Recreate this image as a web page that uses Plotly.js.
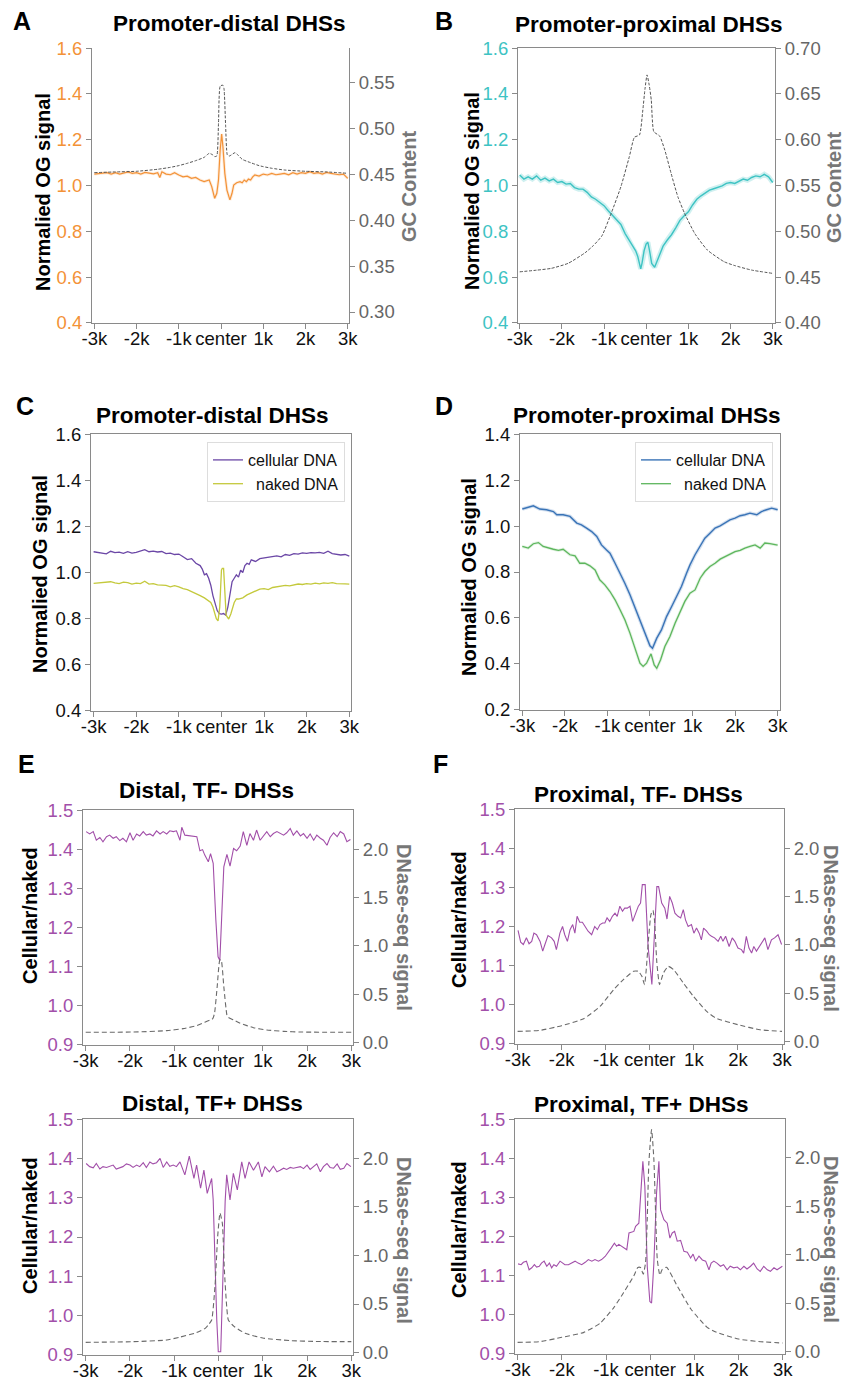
<!DOCTYPE html>
<html><head><meta charset="utf-8">
<script src="https://cdn.plot.ly/plotly-3.0.1.min.js"></script>
<style>html,body{margin:0;padding:0;background:#fff}#chart{width:846px;height:1380px}</style>
</head><body><div id="chart"></div>
<script>
// ---------- tick labels ----------
const X_TICKS = [-3000,-2000,-1000,0,1000,2000,3000];
const X_LABELS = ['-3k','-2k','-1k','center','1k','2k','3k'];
const OG_TICKS_A = [0.4,0.6,0.8,1.0,1.2,1.4,1.6];
const GC_TICKS_A = [0.30,0.35,0.40,0.45,0.50,0.55];
const GC_TICKS_B = [0.40,0.45,0.50,0.55,0.60,0.65,0.70];
const OG_TICKS_D = [0.2,0.4,0.6,0.8,1.0,1.2,1.4];
const RATIO_TICKS = [0.9,1.0,1.1,1.2,1.3,1.4,1.5];
const DNASE_TICKS = [0.0,0.5,1.0,1.5,2.0];

// ---------- Panel A: promoter-distal, OG signal + GC content ----------
const A_og_x = [-3000,-2850,-2700,-2600,-2500,-2400,-2300,-2200,-2100,-2000,-1900,-1800,-1700,-1600,-1500,-1450,-1400,-1300,-1200,-1100,-1000,-900,-800,-700,-600,-500,-400,-350,-280,-220,-150,-100,-60,-20,15,45,90,140,210,260,300,370,450,500,550,600,650,700,750,800,900,1000,1100,1200,1300,1400,1500,1600,1700,1800,1900,2000,2100,2200,2300,2400,2500,2600,2700,2800,2900,3000];
const A_og = [1.050,1.053,1.056,1.050,1.056,1.050,1.054,1.059,1.053,1.056,1.050,1.057,1.054,1.051,1.056,1.035,1.060,1.050,1.047,1.056,1.046,1.038,1.041,1.031,1.035,1.024,1.017,1.021,1.024,0.995,0.944,0.966,1.024,1.155,1.225,1.169,1.053,0.980,0.937,0.966,1.002,1.012,1.017,1.012,1.024,1.017,1.028,1.024,1.038,1.046,1.041,1.050,1.046,1.053,1.047,1.050,1.053,1.047,1.056,1.050,1.056,1.053,1.060,1.053,1.056,1.050,1.057,1.053,1.050,1.047,1.050,1.031];
const A_gc_x = [-3000,-2500,-2000,-1500,-1200,-1000,-800,-600,-400,-280,-200,-150,-100,-60,-20,40,70,110,150,200,330,400,500,700,900,1000,1200,1500,2000,2500,3000];
const A_gc = [0.452,0.4528,0.4535,0.4557,0.4578,0.4597,0.4622,0.4651,0.4687,0.4731,0.4715,0.4695,0.4702,0.5057,0.5464,0.5475,0.5438,0.5021,0.4713,0.4702,0.4738,0.4713,0.4666,0.4629,0.4597,0.4586,0.4568,0.4549,0.4535,0.4528,0.4513];

// ---------- Panel B: promoter-proximal ----------
const B_og_x = [-3000,-2900,-2800,-2700,-2600,-2500,-2400,-2300,-2200,-2100,-2000,-1900,-1800,-1700,-1600,-1500,-1400,-1300,-1200,-1100,-1000,-900,-800,-700,-600,-500,-400,-300,-250,-200,-150,-130,-100,-50,0,40,80,130,200,260,320,400,500,600,700,800,900,1000,1100,1200,1300,1400,1500,1600,1700,1800,1900,2000,2100,2200,2300,2400,2500,2600,2700,2800,2900,3000];
const B_og = [1.046,1.028,1.038,1.028,1.042,1.023,1.032,1.020,1.028,1.013,1.017,1.006,1.009,0.991,0.984,0.984,0.970,0.950,0.940,0.926,0.912,0.890,0.870,0.850,0.830,0.790,0.760,0.730,0.715,0.690,0.650,0.636,0.660,0.715,0.745,0.752,0.715,0.660,0.643,0.670,0.705,0.735,0.762,0.785,0.815,0.848,0.868,0.885,0.915,0.940,0.955,0.968,0.980,0.986,0.991,0.998,1.009,1.013,1.009,1.020,1.028,1.023,1.035,1.042,1.038,1.049,1.038,1.013];
const B_gc_x = [-3000,-2600,-2250,-1850,-1450,-1250,-1050,-830,-600,-400,-280,-160,-80,-30,20,70,120,180,320,440,590,750,910,1150,1450,1850,2100,2500,3000];
const B_gc = [0.4557,0.4575,0.4595,0.465,0.4765,0.4845,0.495,0.5196,0.5487,0.5815,0.6027,0.6052,0.6325,0.655,0.6708,0.66,0.6435,0.6088,0.604,0.5888,0.5633,0.5378,0.5196,0.4977,0.4795,0.4667,0.4625,0.4576,0.454];

// ---------- Panel C: promoter-distal, cellular vs naked ----------
const C_cell_x = [-3000,-2900,-2800,-2700,-2600,-2500,-2400,-2300,-2200,-2100,-2000,-1900,-1800,-1700,-1600,-1500,-1400,-1300,-1200,-1100,-1000,-900,-800,-700,-600,-500,-450,-400,-350,-300,-250,-200,-150,-100,-50,0,50,100,150,200,250,300,350,400,450,500,550,600,650,700,800,900,1000,1100,1200,1300,1400,1500,1600,1700,1800,1900,2000,2100,2200,2300,2400,2500,2600,2700,2800,2900,3000];
const C_cell = [1.090,1.088,1.085,1.081,1.092,1.086,1.088,1.083,1.090,1.084,1.087,1.094,1.099,1.090,1.093,1.089,1.091,1.082,1.084,1.078,1.080,1.068,1.056,1.060,1.040,1.030,1.015,0.990,0.995,0.975,0.945,0.900,0.870,0.835,0.822,0.820,0.822,0.815,0.850,0.910,0.960,0.975,0.990,0.980,1.010,1.000,1.030,1.040,1.035,1.055,1.048,1.060,1.063,1.066,1.070,1.072,1.068,1.078,1.074,1.082,1.080,1.085,1.083,1.086,1.085,1.087,1.083,1.092,1.082,1.080,1.076,1.078,1.071];
const C_naked_x = [-3000,-2900,-2800,-2700,-2600,-2500,-2400,-2300,-2200,-2100,-2000,-1900,-1800,-1700,-1600,-1500,-1400,-1300,-1200,-1100,-1000,-900,-800,-700,-600,-500,-400,-300,-250,-200,-150,-120,-80,-40,0,20,50,75,110,170,220,300,350,400,500,600,700,800,900,1000,1100,1200,1300,1400,1500,1600,1700,1800,1900,2000,2100,2200,2300,2400,2500,2600,2700,2800,2900,3000];
const C_naked = [0.953,0.954,0.956,0.957,0.960,0.955,0.952,0.958,0.956,0.950,0.954,0.952,0.962,0.950,0.952,0.946,0.945,0.944,0.938,0.943,0.938,0.930,0.926,0.918,0.910,0.900,0.890,0.878,0.870,0.850,0.820,0.800,0.790,0.850,1.010,1.018,1.018,0.900,0.815,0.798,0.820,0.870,0.885,0.885,0.890,0.903,0.912,0.920,0.928,0.930,0.926,0.935,0.938,0.940,0.944,0.942,0.946,0.950,0.948,0.952,0.950,0.954,0.951,0.955,0.953,0.956,0.952,0.950,0.951,0.950];

// ---------- Panel D: promoter-proximal, cellular vs naked ----------
const D_cell_x = [-3000,-2820,-2740,-2590,-2430,-2270,-2190,-2040,-1880,-1720,-1610,-1490,-1370,-1250,-1140,-1020,-940,-820,-700,-590,-470,-350,-235,-120,0,60,160,270,390,510,630,740,860,940,1060,1180,1290,1410,1530,1650,1760,1880,2000,2120,2230,2350,2510,2620,2740,2860,3000];
const D_cell = [1.074,1.082,1.088,1.074,1.071,1.063,1.049,1.049,1.042,1.013,1.005,0.991,0.976,0.955,0.918,0.896,0.882,0.838,0.795,0.751,0.701,0.643,0.592,0.534,0.479,0.468,0.512,0.548,0.606,0.650,0.693,0.737,0.795,0.831,0.875,0.911,0.947,0.969,0.991,1.001,1.013,1.027,1.034,1.045,1.049,1.056,1.049,1.063,1.071,1.078,1.071];
const D_naked_x = [-3000,-2860,-2740,-2620,-2510,-2390,-2270,-2150,-2040,-1880,-1760,-1650,-1530,-1410,-1290,-1180,-1060,-940,-820,-700,-590,-470,-350,-235,-160,-80,25,100,160,250,350,470,590,700,820,940,1060,1180,1290,1410,1530,1650,1760,1880,2000,2120,2230,2350,2470,2590,2700,2820,3000];
const D_naked = [0.911,0.904,0.923,0.928,0.911,0.904,0.899,0.894,0.899,0.875,0.870,0.838,0.838,0.827,0.809,0.766,0.744,0.715,0.679,0.635,0.592,0.534,0.468,0.403,0.389,0.403,0.444,0.396,0.381,0.418,0.476,0.519,0.577,0.621,0.672,0.708,0.722,0.773,0.802,0.824,0.838,0.856,0.867,0.879,0.889,0.894,0.904,0.911,0.918,0.904,0.926,0.923,0.917];

// ---------- Panel E top: Distal, TF- ----------
const E1_ratio_x = [-2990,-2910,-2830,-2760,-2680,-2610,-2530,-2460,-2380,-2310,-2230,-2160,-2080,-2000,-1930,-1850,-1780,-1700,-1630,-1550,-1480,-1400,-1320,-1250,-1170,-1100,-1020,-950,-870,-830,-760,-650,-490,-420,-360,-310,-230,-180,-120,-60,-10,30,80,120,190,260,340,410,490,560,640,710,790,860,940,1020,1090,1170,1240,1320,1390,1470,1540,1620,1690,1770,1850,1920,2000,2070,2150,2220,2300,2370,2450,2520,2600,2680,2750,2830,2900,2980];
const E1_ratio = [1.445,1.439,1.445,1.423,1.430,1.419,1.432,1.436,1.428,1.432,1.422,1.428,1.419,1.442,1.423,1.439,1.434,1.445,1.436,1.439,1.434,1.447,1.439,1.445,1.439,1.447,1.445,1.447,1.423,1.456,1.436,1.434,1.432,1.396,1.399,1.385,1.368,1.389,1.364,1.219,1.125,1.116,1.244,1.355,1.387,1.357,1.402,1.396,1.408,1.445,1.410,1.440,1.423,1.449,1.423,1.436,1.445,1.432,1.440,1.445,1.440,1.436,1.442,1.453,1.436,1.447,1.434,1.440,1.428,1.439,1.423,1.436,1.428,1.423,1.410,1.430,1.442,1.432,1.445,1.439,1.419,1.425];
const E1_dnase_x = [-3000,-1930,-1170,-800,-490,-310,-190,-130,-90,-30,30,60,120,190,220,340,490,790,1090,1470,1850,3000];
const E1_dnase = [0.107,0.110,0.124,0.145,0.176,0.210,0.234,0.248,0.303,0.578,0.854,0.854,0.578,0.286,0.262,0.234,0.200,0.155,0.131,0.117,0.110,0.107];

// ---------- Panel E bottom: Distal, TF+ ----------
const E2_ratio_x = [-2990,-2910,-2830,-2760,-2680,-2610,-2530,-2460,-2380,-2310,-2230,-2160,-2080,-2000,-1930,-1850,-1780,-1700,-1630,-1550,-1480,-1400,-1320,-1250,-1170,-1100,-1020,-950,-870,-760,-660,-555,-495,-405,-330,-255,-155,-120,-40,-5,50,110,150,185,260,335,425,525,600,690,790,900,980,1050,1150,1240,1320,1390,1470,1540,1620,1690,1770,1850,1920,2000,2070,2150,2220,2300,2370,2450,2520,2600,2680,2750,2830,2900,2990];
const E2_ratio = [1.387,1.379,1.376,1.387,1.373,1.379,1.377,1.380,1.383,1.373,1.377,1.379,1.386,1.383,1.377,1.383,1.379,1.389,1.377,1.391,1.386,1.389,1.400,1.377,1.391,1.380,1.383,1.379,1.391,1.358,1.406,1.349,1.383,1.324,1.370,1.311,1.349,1.294,0.990,0.908,0.908,1.159,1.290,1.358,1.294,1.362,1.320,1.391,1.349,1.391,1.370,1.391,1.353,1.379,1.366,1.380,1.366,1.370,1.375,1.372,1.377,1.375,1.377,1.379,1.374,1.383,1.372,1.379,1.386,1.366,1.379,1.387,1.377,1.375,1.386,1.372,1.375,1.387,1.379];
const E2_dnase_x = [-3000,-1930,-1170,-870,-500,-300,-220,-154,-80,-19,34,86,132,185,222,350,600,1000,1620,2200,3000];
const E2_dnase = [0.106,0.113,0.130,0.160,0.205,0.250,0.290,0.336,0.679,1.193,1.434,1.331,0.851,0.473,0.336,0.270,0.200,0.150,0.124,0.115,0.113];

// ---------- Panel F top: Proximal, TF- ----------
const F1_ratio_x = [-2990,-2930,-2870,-2800,-2740,-2680,-2630,-2570,-2490,-2430,-2380,-2310,-2230,-2170,-2120,-2040,-1980,-1930,-1870,-1810,-1750,-1700,-1650,-1590,-1530,-1470,-1400,-1320,-1250,-1190,-1130,-1070,-1020,-970,-910,-850,-790,-740,-680,-620,-570,-510,-450,-390,-340,-260,-210,-170,-105,-40,47,100,160,200,270,340,390,450,510,570,640,700,760,810,870,945,1000,1060,1120,1170,1220,1290,1350,1400,1470,1550,1610,1660,1720,1800,1870,1930,2000,2080,2130,2190,2250,2310,2360,2420,2490,2550,2610,2680,2760,2830,2910,2990];
const F1_ratio = [1.190,1.160,1.154,1.171,1.156,1.162,1.183,1.179,1.162,1.137,1.154,1.177,1.171,1.162,1.141,1.183,1.200,1.179,1.162,1.192,1.205,1.183,1.226,1.211,1.211,1.200,1.188,1.179,1.200,1.192,1.205,1.209,1.209,1.222,1.213,1.226,1.234,1.226,1.252,1.239,1.247,1.247,1.252,1.213,1.230,1.252,1.260,1.307,1.307,1.150,1.052,1.160,1.302,1.302,1.260,1.247,1.219,1.277,1.260,1.234,1.226,1.222,1.243,1.217,1.200,1.205,1.183,1.196,1.183,1.166,1.196,1.188,1.179,1.175,1.171,1.162,1.175,1.162,1.175,1.149,1.171,1.162,1.145,1.141,1.132,1.175,1.145,1.132,1.149,1.137,1.149,1.158,1.171,1.141,1.166,1.171,1.179,1.154];
const F1_dnase_x = [-3000,-2500,-2000,-1500,-1130,-820,-600,-370,-260,-180,-120,-80,-30,25,70,105,160,220,260,310,420,540,760,990,1290,1500,2000,2500,3000];
const F1_dnase = [0.104,0.114,0.163,0.235,0.363,0.537,0.640,0.727,0.727,0.675,0.588,0.750,1.056,1.315,1.360,1.263,0.814,0.588,0.640,0.710,0.778,0.744,0.606,0.467,0.311,0.242,0.173,0.121,0.104];

// ---------- Panel F bottom: Proximal, TF+ ----------
const F2_ratio_x = [-2990,-2920,-2870,-2800,-2740,-2680,-2620,-2570,-2510,-2460,-2400,-2340,-2280,-2230,-2180,-2120,-2040,-1980,-1930,-1850,-1780,-1700,-1630,-1550,-1470,-1400,-1320,-1250,-1170,-1100,-1020,-940,-880,-810,-760,-710,-640,-580,-530,-480,-415,-370,-330,-290,-257,-203,-166,-121,-67,-8,31,83,144,197,235,310,385,446,499,552,612,688,763,840,914,970,1028,1104,1180,1255,1330,1380,1440,1510,1590,1660,1740,1810,1890,1970,2040,2120,2190,2270,2340,2420,2490,2570,2650,2720,2800,2870,2990];
const F2_ratio = [1.130,1.128,1.134,1.137,1.115,1.120,1.128,1.122,1.124,1.132,1.137,1.124,1.132,1.120,1.128,1.124,1.137,1.132,1.128,1.128,1.132,1.137,1.132,1.128,1.134,1.141,1.137,1.141,1.137,1.141,1.149,1.160,1.171,1.183,1.175,1.180,1.175,1.171,1.166,1.209,1.211,1.213,1.226,1.230,1.234,1.328,1.392,1.328,1.124,1.034,1.030,1.132,1.311,1.392,1.268,1.243,1.234,1.196,1.209,1.213,1.188,1.190,1.162,1.160,1.145,1.155,1.137,1.150,1.140,1.137,1.115,1.132,1.137,1.132,1.124,1.128,1.115,1.124,1.120,1.122,1.115,1.124,1.117,1.124,1.132,1.117,1.111,1.124,1.115,1.111,1.120,1.115,1.124];
const F2_dnase_x = [-3000,-2500,-2000,-1500,-1130,-820,-600,-370,-280,-220,-157,-105,-67,-30,31,83,122,160,219,273,370,610,920,1290,1500,2000,2500,3000];
const F2_dnase = [0.096,0.103,0.148,0.199,0.295,0.457,0.611,0.782,0.868,0.868,0.800,0.920,1.365,1.948,2.291,1.983,1.434,0.954,0.789,0.850,0.870,0.679,0.440,0.251,0.200,0.130,0.103,0.089];

// ---------- styling ----------
const W = 846, H = 1380;
const FONT = 'Liberation Sans, Arial, Helvetica, sans-serif';
const AX = '#8a8a8a';
const TICK = 18.5;
const ORANGE = '#f39237', CYAN = '#3ec3c3', GRAY = '#555555', PURPLE = '#6b47a6',
      YGREEN = '#c4c93c', BLUE = '#3a74b7', GREEN = '#5db65d', MAG = '#a24fa9', RGRAY = '#666666';

function xAxis(l, r, range, anchor, mirror) {
  return {domain:[l/W, r/W], range:range, anchor:anchor, tickmode:'array', tickvals:X_TICKS, ticktext:X_LABELS,
    tickangle:0, ticks:'outside', ticklen:5, tickwidth:1, tickcolor:AX, showline:true, linecolor:AX, linewidth:1,
    mirror:mirror, showgrid:false, zeroline:false, fixedrange:true, ticklabelstandoff:-6,
    tickfont:{family:FONT, size:TICK, color:'#111'}};
}
function yAxis(top, bottom, range, anchor, tv, fmt, color, mirror) {
  return {domain:[1-bottom/H, 1-top/H], range:range, anchor:anchor, tickmode:'array', tickvals:tv,
    ticktext:tv.map(v => v.toFixed(fmt)), ticks:'outside', ticklen:5, tickwidth:1, tickcolor:AX,
    showline:true, linecolor:AX, linewidth:1, mirror:mirror, showgrid:false, zeroline:false, fixedrange:true,
    tickfont:{family:FONT, size:TICK, color:color}};
}
function yRight(base, range, anchor, tv, fmt) {
  return {overlaying:base, side:'right', range:range, anchor:anchor, tickmode:'array', tickvals:tv,
    ticktext:tv.map(v => v.toFixed(fmt)), ticks:'outside', ticklen:5, tickwidth:1, tickcolor:AX,
    showline:true, linecolor:AX, linewidth:1, showgrid:false, zeroline:false, fixedrange:true,
    tickfont:{family:FONT, size:TICK, color:RGRAY}};
}
function ann(text, x, y, size, color, angle) {
  return {text:'<b>'+text+'</b>', x:x/W, y:1-y/H, xref:'paper', yref:'paper', showarrow:false,
    xanchor:'center', yanchor:'middle', textangle:angle||0, borderpad:0, font:{family:FONT, size:size, color:color}};
}
function line(x, y, xa, ya, color, width, extra) {
  return Object.assign({type:'scatter', mode:'lines', x:x, y:y, xaxis:xa, yaxis:ya, showlegend:false,
    hoverinfo:'skip', line:{color:color, width:width}}, extra||{});
}
const dashA = {line:{color:GRAY, width:1, dash:'3px,1.6px', shape:'spline', smoothing:0.5}};
const dashE = {line:{color:'#6a6a6a', width:1.1, dash:'5px,3px', shape:'spline', smoothing:0.5}};

const traces = [
  // A
  line(A_og_x, A_og, 'x', 'y', ORANGE, 3, {opacity:0.18}),
  line(A_og_x, A_og, 'x', 'y', ORANGE, 1.2),
  line(A_gc_x, A_gc, 'x', 'y9', GRAY, 1, dashA),
  // B
  line(B_og_x, B_og, 'x2', 'y2', CYAN, 5, {opacity:0.25}),
  line(B_og_x, B_og, 'x2', 'y2', CYAN, 1.4),
  line(B_gc_x, B_gc, 'x2', 'y10', GRAY, 1, dashA),
  // C
  line(C_cell_x, C_cell, 'x3', 'y3', PURPLE, 1.3, {showlegend:true, name:'cellular DNA', legend:'legend'}),
  line(C_naked_x, C_naked, 'x3', 'y3', YGREEN, 1.3, {showlegend:true, name:'\u2002naked DNA', legend:'legend'}),
  // D
  line(D_cell_x, D_cell, 'x4', 'y4', BLUE, 3.5, {opacity:0.22}),
  line(D_naked_x, D_naked, 'x4', 'y4', GREEN, 3, {opacity:0.18}),
  line(D_cell_x, D_cell, 'x4', 'y4', BLUE, 1.4, {showlegend:true, name:'cellular DNA', legend:'legend2'}),
  line(D_naked_x, D_naked, 'x4', 'y4', GREEN, 1.3, {showlegend:true, name:'\u2002naked DNA', legend:'legend2'}),
  // E top
  line(E1_ratio_x, E1_ratio, 'x5', 'y5', MAG, 1.1),
  line(E1_dnase_x, E1_dnase, 'x5', 'y11', GRAY, 1, dashE),
  // F top
  line(F1_ratio_x, F1_ratio, 'x6', 'y6', MAG, 1.1),
  line(F1_dnase_x, F1_dnase, 'x6', 'y12', GRAY, 1, dashE),
  // E bottom
  line(E2_ratio_x, E2_ratio, 'x7', 'y7', MAG, 1.1),
  line(E2_dnase_x, E2_dnase, 'x7', 'y13', GRAY, 1, dashE),
  // F bottom
  line(F2_ratio_x, F2_ratio, 'x8', 'y8', MAG, 1.1),
  line(F2_dnase_x, F2_dnase, 'x8', 'y14', GRAY, 1, dashE)
];

const legendBase = {xanchor:'right', yanchor:'top', bgcolor:'rgba(255,255,255,0.95)', bordercolor:'#dddddd',
  borderwidth:1, font:{family:FONT, size:16, color:'#111'}, tracegroupgap:0, itemclick:false, itemdoubleclick:false};

const layout = {
  width:W, height:H, margin:{l:0, r:0, t:0, b:0}, paper_bgcolor:'#fff', plot_bgcolor:'rgba(0,0,0,0)',
  hovermode:false, showlegend:true,
  legend:Object.assign({x:345/W, y:1-442/H}, legendBase),
  legend2:Object.assign({x:773/W, y:1-442/H}, legendBase),
  // A
  xaxis:xAxis(92, 349, [-3055, 3030], 'y', false),
  yaxis:yAxis(48, 323, [0.3995, 1.6005], 'x', OG_TICKS_A, 1, ORANGE, false),
  yaxis9:yRight('y', [0.288, 0.588], 'x', GC_TICKS_A, 2),
  // B
  xaxis2:xAxis(518, 775, [-3040, 3054], 'y2', true),
  yaxis2:yAxis(48, 323, [0.3995, 1.6005], 'x2', OG_TICKS_A, 1, CYAN, false),
  yaxis10:yRight('y2', [0.3998, 0.7002], 'x2', GC_TICKS_B, 2),
  // C
  xaxis3:xAxis(91, 351, [-3061, 3040], 'y3', true),
  yaxis3:yAxis(434, 711, [0.3995, 1.6005], 'x3', OG_TICKS_A, 1, '#111', true),
  // D
  xaxis4:xAxis(520, 780, [-3054, 3056], 'y4', true),
  yaxis4:yAxis(434, 710, [0.1995, 1.4005], 'x4', OG_TICKS_D, 1, '#111', true),
  // E top
  xaxis5:xAxis(83, 353, [-3061, 3038], 'y5', true),
  yaxis5:yAxis(810, 1045, [0.8998, 1.5002], 'x5', RATIO_TICKS, 1, MAG, false),
  yaxis11:yRight('y5', [-0.024, 2.403], 'x5', DNASE_TICKS, 1),
  // F top
  xaxis6:xAxis(515, 784, [-3059, 3045], 'y6', true),
  yaxis6:yAxis(809, 1044, [0.8998, 1.5002], 'x6', RATIO_TICKS, 1, MAG, false),
  yaxis12:yRight('y6', [-0.027, 2.41], 'x6', DNASE_TICKS, 1),
  // E bottom
  xaxis7:xAxis(83, 353, [-3061, 3038], 'y7', true),
  yaxis7:yAxis(1119, 1355, [0.8998, 1.5002], 'x7', RATIO_TICKS, 1, MAG, false),
  yaxis13:yRight('y7', [-0.024, 2.401], 'x7', DNASE_TICKS, 1),
  // F bottom
  xaxis8:xAxis(515, 785, [-3059, 3050], 'y8', true),
  yaxis8:yAxis(1119, 1354, [0.8998, 1.5002], 'x8', RATIO_TICKS, 1, MAG, false),
  yaxis14:yRight('y8', [-0.024, 2.40], 'x8', DNASE_TICKS, 1),
  annotations:[
    // panel letters
    ann('A', 22, 21, 25, '#000'), ann('B', 444, 21, 25, '#000'),
    ann('C', 25, 406, 25, '#000'), ann('D', 444, 406, 25, '#000'),
    ann('E', 26, 764, 25, '#000'), ann('F', 440, 764, 25, '#000'),
    // titles
    ann('Promoter-distal DHSs', 229, 23, 22.5, '#000'),
    ann('Promoter-proximal DHSs', 649, 24, 22.5, '#000'),
    ann('Promoter-distal DHSs', 213, 415, 22.5, '#000'),
    ann('Promoter-proximal DHSs', 647, 416, 22.5, '#000'),
    ann('Distal, TF- DHSs', 206, 791, 22.5, '#000'),
    ann('Proximal, TF- DHSs', 638, 794, 22.5, '#000'),
    ann('Distal, TF+ DHSs', 213, 1103, 22.5, '#000'),
    ann('Proximal, TF+ DHSs', 641, 1104, 22.5, '#000'),
    // axis titles
    ann('Normalied OG signal', 43, 192, 20, '#000', -90),
    ann('GC Content', 409, 187, 20, '#777', -90),
    ann('Normalied OG signal', 472, 191, 20, '#000', -90),
    ann('GC Content', 834, 188, 20, '#777', -90),
    ann('Normalied OG signal', 40, 574, 20, '#000', -90),
    ann('Normalied OG signal', 469, 577, 20, '#000', -90),
    ann('Cellular/naked', 30, 916, 20, '#000', -90),
    ann('DNase-seq signal', 404, 927, 20, '#777', 90),
    ann('Cellular/naked', 459, 919, 20, '#000', -90),
    ann('DNase-seq signal', 831, 928, 20, '#777', 90),
    ann('Cellular/naked', 30, 1226, 20, '#000', -90),
    ann('DNase-seq signal', 404, 1240, 20, '#777', 90),
    ann('Cellular/naked', 459, 1229, 20, '#000', -90),
    ann('DNase-seq signal', 831, 1239, 20, '#777', 90)
  ]
};

Plotly.newPlot('chart', traces, layout, {staticPlot:true, displayModeBar:false});
</script></body></html>
